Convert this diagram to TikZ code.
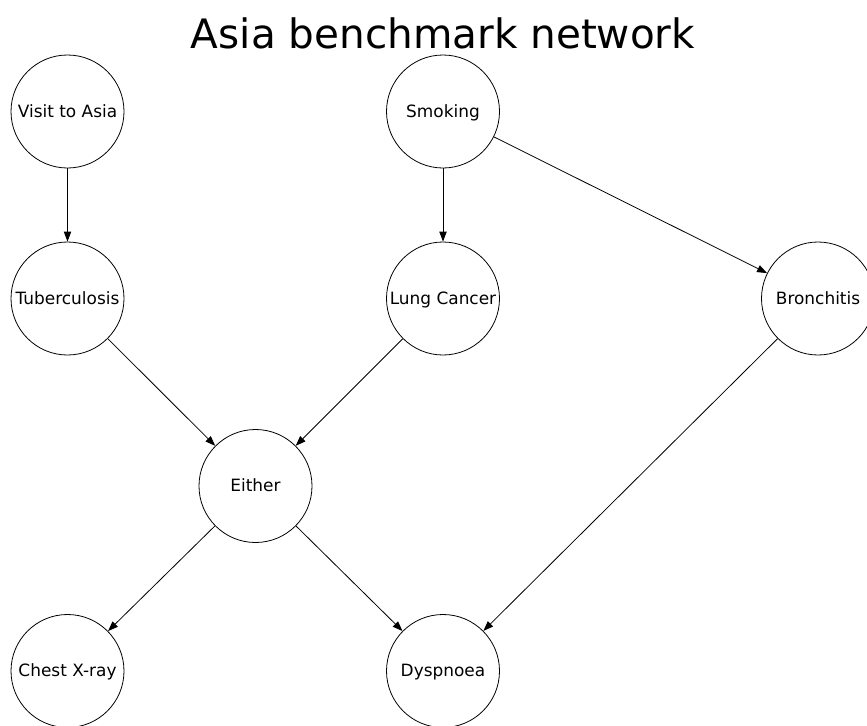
\documentclass[tikz,border=0pt]{standalone}
\usepackage{fontspec}
\setmainfont{DejaVu Sans}
\usetikzlibrary{arrows.meta}

\tikzset{every picture/.style={line width=0.6pt}}
\tikzset{
  var/.style={draw, circle, minimum size=84.75pt, inner sep=0pt, text height=1.9ex, text depth=0.3ex, font=\fontsize{12.7}{15}\selectfont},
  dep/.style={-{Triangle[length=7.5pt,width=5.5pt]}, shorten >=0pt}
}

\begin{document}
\begin{tikzpicture}[x=0.75pt,y=0.75pt,yscale=-1,xscale=1]
\useasboundingbox (0,0) rectangle (867,725);
\begin{scope}
\clip (0,0) rectangle (867,725);

% Title
\node (title) at (443,33) {\fontsize{30.4}{34}\selectfont Asia benchmark network};

% Variables
\node [var] (asia) at (67.5,111.5) {Visit to Asia};
\node [var] (smoke) at (443,111.5) {Smoking};
\node [var] (tub) at (67.5,298.5) {Tuberculosis};
\node [var] (lung) at (443,298.5) {Lung Cancer};
\node [var] (bronc) at (818,298.5) {Bronchitis};
\node [var] (either) at (255.5,486) {Either};
\node [var] (xray) at (67.5,671) {Chest X-ray};
\node [var] (dysp) at (443,671) {Dyspnoea};

% Dependencies
\draw [dep] (asia) -- (tub);
\draw [dep] (smoke) -- (lung);
\draw [dep] (smoke) -- (bronc);
\draw [dep] (tub) -- (either);
\draw [dep] (lung) -- (either);
\draw [dep] (either) -- (xray);
\draw [dep] (either) -- (dysp);
\draw [dep] (bronc) -- (dysp);
\end{scope}
\end{tikzpicture}
\end{document}
